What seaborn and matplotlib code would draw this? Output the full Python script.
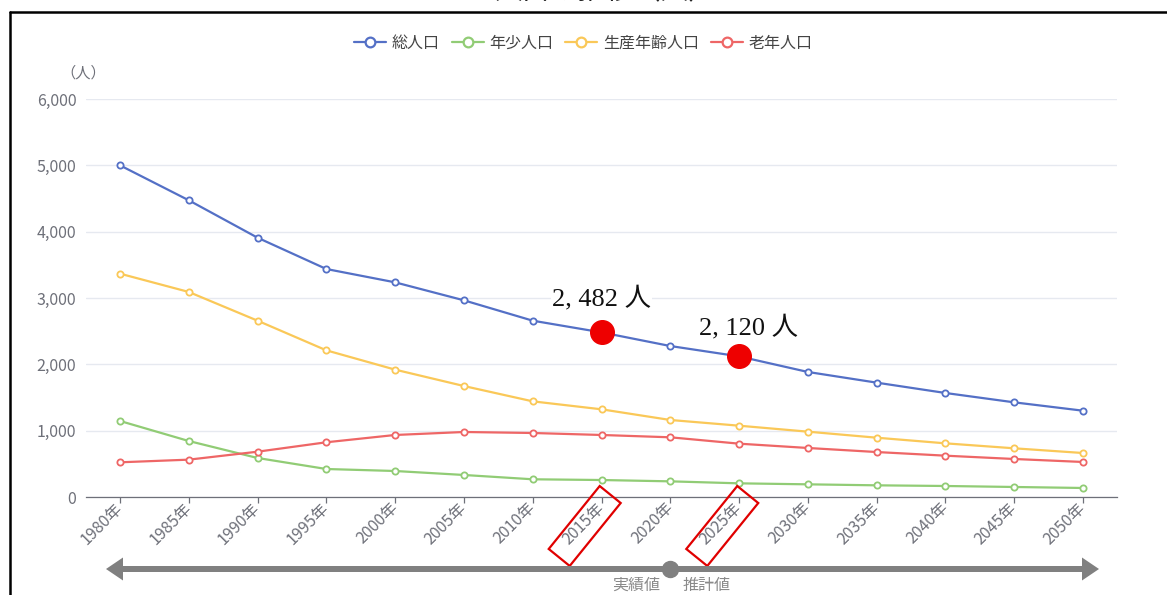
"""
Population trend chart (total / young / working-age / elderly), 1980-2050.
"""

import matplotlib

matplotlib.use("Agg")

import matplotlib.pyplot as plt
import matplotlib.transforms as mtransforms
import pandas as pd
import seaborn as sns
from matplotlib.lines import Line2D
from matplotlib.patches import FancyArrow, Rectangle
from matplotlib.ticker import FuncFormatter

YEARS = [1980, 1985, 1990, 1995, 2000, 2005, 2010, 2015, 2020, 2025, 2030, 2035, 2040, 2045, 2050]
TOTAL = [5000, 4473, 3909, 3437, 3236, 2965, 2658, 2482, 2276, 2120, 1885, 1724, 1568, 1427, 1301]
YOUNG = [1146, 844, 588, 422, 392, 332, 267, 256, 236, 206, 191, 176, 166, 151, 136]
WORKING = [3367, 3091, 2658, 2211, 1920, 1673, 1442, 1322, 1161, 1075, 985, 894, 809, 734, 663]
ELDERLY = [523, 563, 683, 825, 935, 980, 965, 935, 900, 804, 739, 678, 623, 573, 528]

SERIES_NAMES = ["総人口", "年少人口", "生産年齢人口", "老年人口"]
SERIES_COLORS = ["#5470C6", "#91CC75", "#FAC858", "#EE6666"]

HIGHLIGHT_YEARS = [2015, 2025]
HIGHLIGHT_VALUES = [2482, 2120]
HIGHLIGHT_LABELS = ["2, 482 人", "2, 120 人"]

Y_TICKS = [0, 1000, 2000, 3000, 4000, 5000, 6000]
AXIS_GREY = "#6E7079"
GRID_COLOR = "#E6E9F0"
CJK = ["Noto Sans CJK JP", "DejaVu Sans"]


def build_frame() -> pd.DataFrame:
    parts = []
    for name, values in zip(SERIES_NAMES, [TOTAL, YOUNG, WORKING, ELDERLY]):
        parts.append(pd.DataFrame({"year": YEARS, "value": values, "series": name}))
    return pd.concat(parts, ignore_index=True)


def main() -> int:
    sns.set_theme(style="white")
    plt.rcParams["font.family"] = CJK

    df = build_frame()
    fig = plt.figure(figsize=(11.67, 5.95), dpi=100)
    ax = fig.add_axes([86 / 1167, 98 / 595, 1031 / 1167, 398 / 595])

    sns.lineplot(
        data=df, x="year", y="value", hue="series", hue_order=SERIES_NAMES,
        palette=dict(zip(SERIES_NAMES, SERIES_COLORS)), marker="o",
        markersize=4.5, markerfacecolor="white", linewidth=1.6,
        legend=False, ax=ax, zorder=3,
    )
    for line in ax.lines:
        line.set_markeredgecolor(line.get_color())
        line.set_markeredgewidth(1.3)

    step = YEARS[1] - YEARS[0]
    ax.set_xlim(YEARS[0] - step * 0.494, YEARS[-1] + step * 0.494)
    ax.set_ylim(Y_TICKS[0], Y_TICKS[-1])
    ax.set_xticks(YEARS)
    ax.set_xticklabels([f"{y}年" for y in YEARS], rotation=45, ha="right",
                       rotation_mode="anchor", va="center")
    ax.set_yticks(Y_TICKS)
    ax.yaxis.set_major_formatter(FuncFormatter(lambda v, _: f"{int(v):,}"))
    ax.set_xlabel("")
    ax.set_ylabel("")
    ax.grid(axis="y", color=GRID_COLOR, linewidth=1.0)
    ax.grid(axis="x", visible=False)
    for side in ["left", "right", "top"]:
        ax.spines[side].set_visible(False)
    ax.spines["bottom"].set_color(AXIS_GREY)
    ax.spines["bottom"].set_linewidth(0.9)
    ax.tick_params(axis="x", length=4, width=0.9, color=AXIS_GREY, colors=AXIS_GREY,
                   labelsize=11.5, pad=2, direction="out", bottom=True)
    ax.tick_params(axis="y", length=0, colors=AXIS_GREY, labelsize=11.5, pad=7)

    ax.annotate("（人）", xy=(0, 1), xycoords="axes fraction", xytext=(-2, 19),
                textcoords="offset points", ha="center", va="center",
                color=AXIS_GREY, fontsize=11)

    # highlighted values
    ax.plot(HIGHLIGHT_YEARS, HIGHLIGHT_VALUES, "o", color="#EE0000", markersize=17,
            zorder=5, linestyle="none")
    text_offsets = [(0, 25), (7, 21)]
    for year, val, lab, off in zip(HIGHLIGHT_YEARS, HIGHLIGHT_VALUES, HIGHLIGHT_LABELS, text_offsets):
        ax.annotate(lab, xy=(year, val), xytext=off, textcoords="offset points",
                    ha="center", va="center", fontsize=19, color="#111111",
                    family=["Liberation Serif", "Noto Sans CJK JP"], zorder=6,
                    bbox=dict(boxstyle="square,pad=0.05", fc="white", ec="none"))

    handles = [Line2D([], [], color=c, marker="o", markersize=7, markerfacecolor="white",
                      markeredgecolor=c, markeredgewidth=1.6, linewidth=1.6)
               for c in SERIES_COLORS]
    fig.legend(handles, SERIES_NAMES, loc="center", bbox_to_anchor=(0.5, 1 - 43 / 595),
               ncol=4, frameon=False, fontsize=11.5, handlelength=2.0, handletextpad=0.35,
               columnspacing=0.75, labelcolor="#444444")

    # red boxes around the two highlighted tick labels
    fig.canvas.draw()
    for year in HIGHLIGHT_YEARS:
        tx, ty = ax.transData.transform((year, 0))
        cx, cy = tx - 16.8, ty - 29
        w, h = 81, 27
        rect = Rectangle((cx - w / 2, cy - h / 2), w, h, angle=51, rotation_point="center",
                         fill=False, edgecolor="#E00000", linewidth=1.6,
                         transform=mtransforms.IdentityTransform())
        fig.add_artist(rect)

    # timeline arrow at the bottom
    arrow_y = 26 / 595
    x_left, x_right = 106 / 1167, 1099 / 1167
    tr = mtransforms.blended_transform_factory(ax.transData, fig.transFigure)
    mid = ax.transData.transform((2020, 0))[0] / 1167
    for x_end in (x_left, x_right):
        fig.add_artist(FancyArrow(mid, arrow_y, x_end - mid, 0, width=6 / 595,
                                  head_width=23 / 595, head_length=17 / 1167,
                                  length_includes_head=True, color="#808080",
                                  transform=fig.transFigure, linewidth=0))
    ax.plot([2020], [arrow_y], "o", color="#808080", markersize=11.5, transform=tr,
            clip_on=False, zorder=7)
    ax.annotate("実績値", xy=(2020, arrow_y), xycoords=tr, xytext=(-7, -12),
                textcoords="offset points", ha="right", va="center", fontsize=11.5,
                color="#8A8A8A", annotation_clip=False)
    ax.annotate("推計値", xy=(2020, arrow_y), xycoords=tr, xytext=(9, -12),
                textcoords="offset points", ha="left", va="center", fontsize=11.5,
                color="#8A8A8A", annotation_clip=False)

    # title cut off by the screenshot edge, plus the screenshot frame
    fig.text(605 / 1167, 1 + 1 / 595, "人口の推移（人）", ha="center", va="baseline",
             fontsize=20, color="#222222")
    fig.add_artist(Line2D([10 / 1167, 1], [1 - 12 / 595, 1 - 12 / 595], color="black",
                          linewidth=1.8, transform=fig.transFigure))
    fig.add_artist(Line2D([10 / 1167, 10 / 1167], [0, 1 - 12 / 595], color="black",
                          linewidth=1.8, transform=fig.transFigure))

    fig.savefig("out.png", dpi=100, facecolor="white")
    plt.close(fig)
    return 0


if __name__ == "__main__":
    raise SystemExit(main())
